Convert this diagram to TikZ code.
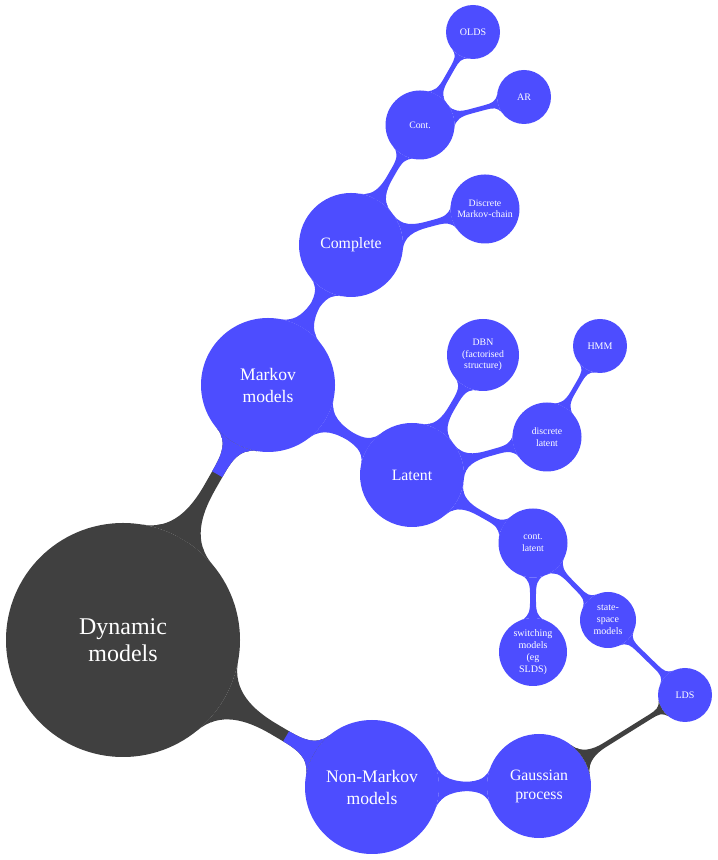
\documentclass[tikz,border=0pt]{standalone}
\usepackage{fontspec}
\setmainfont{Liberation Serif}
\usetikzlibrary{mindmap,calc}
\definecolor{bl}{RGB}{77,77,255}
\definecolor{dk}{RGB}{64,64,64}
\newcommand\splitbar[3]{%
  \path (#1) to[bd, line width=5.5pt] (#2);
  \begin{scope}
    \coordinate (sp) at ($(#1)!#3!(#2)$);
    \clip ($(sp)!400pt!90:(#2)$) -- ($(sp)!400pt!-90:(#2)$) -- ($(#2)!400pt!90:(sp)$) -- ($(#2)!400pt!-90:(sp)$) -- cycle;
    \path (#1) to[b2, line width=5.5pt] (#2);
  \end{scope}}
\begin{document}
\begin{tikzpicture}[x=0.5pt,y=0.5pt,mindmap,
  cpt/.style={concept, circle, draw=none, text=white, inner sep=0pt, align=center, text width={}},
  L0/.style={cpt, concept color=dk, fill=dk, minimum size=117pt, font=\fontsize{12}{13.5}\selectfont},
  L1/.style={cpt, concept color=bl, fill=bl, minimum size=67pt, font=\fontsize{8.8}{11}\selectfont},
  L2/.style={cpt, concept color=bl, fill=bl, minimum size=52pt, font=\fontsize{7.9}{9.5}\selectfont},
  L3/.style={cpt, concept color=bl, fill=bl, minimum size=34.5pt, font=\fontsize{4.9}{5.8}\selectfont},
  L4/.style={cpt, concept color=bl, fill=bl, minimum size=27pt, font=\fontsize{5}{6}\selectfont},
  b2/.style={circle connection bar switch color=from (bl) to (bl), line width=5pt},
  b3/.style={circle connection bar switch color=from (bl) to (bl), line width=3.75pt},
  b4/.style={circle connection bar switch color=from (bl) to (bl), line width=3.5pt},
  bd/.style={circle connection bar switch color=from (dk) to (dk), line width=3.5pt}]
\useasboundingbox (0,0) rectangle (717,860);
% nodes
\node[L0] (root) at (123,220) {Dynamic\\models};
\node[L1] (mm) at (268,475) {Markov\\models};
\node[L1] (nm) at (372,73) {Non-Markov\\models};
\node[L2] (comp) at (351,615) {Complete};
\node[L2] (lat) at (412,385) {Latent};
\node[L2] (gp) at (539,74) {Gaussian\\process};
\node[L3] (cont) at (420,735) {Cont.};
\node[L4] (olds) at (473,828) {OLDS};
\node[L4] (ar) at (524,763) {AR};
\node[L3] (dmc) at (485,651) {Discrete\\Markov-chain};
\node[L3, minimum size=36pt] (dbn) at (483,505) {DBN\\(factorised\\structure)};
\node[L4] (hmm) at (600,514) {HMM};
\node[L3] (dl) at (547,423) {discrete\\latent};
\node[L3] (cl) at (533,317) {cont.\\latent};
\node[L4, minimum size=34pt] (sw) at (533,208) {switching\\models\\(eg\\SLDS)};
\node[L4, minimum size=28pt] (ss) at (608,240) {state-\\space\\models};
\node[L4] (lds) at (685,165) {LDS};
% connections
\splitbar{root}{mm}{0.65}
\splitbar{root}{nm}{0.655}
\path (mm) to[b2] (comp);
\path (mm) to[b2] (lat);
\path (nm) to[b2] (gp);
\path (comp) to[b3] (cont);
\path (comp) to[b3] (dmc);
\path (cont) to[b4] (olds);
\path (cont) to[b4] (ar);
\path (lat) to[b3] (dbn);
\path (lat) to[b3] (dl);
\path (lat) to[b3] (cl);
\path (dl) to[b4] (hmm);
\path (cl) to[b4] (sw);
\path (cl) to[b4] (ss);
\path (ss) to[b4] (lds);
\path (gp) to[bd] (lds);
\end{tikzpicture}
\end{document}
